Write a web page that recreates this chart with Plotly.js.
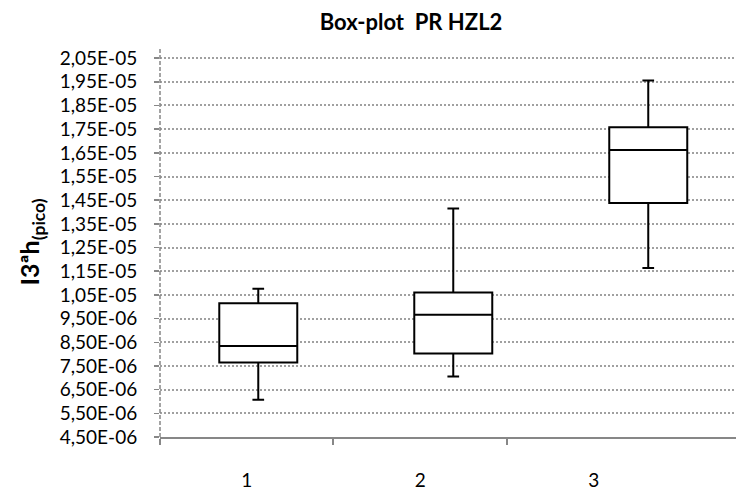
<!DOCTYPE html>
<html><head><meta charset="utf-8">
<script src="https://cdn.plot.ly/plotly-3.0.1.min.js"></script>
<style>html,body{margin:0;padding:0;background:#fff}</style>
</head><body><div id="chart" style="width:736px;height:493px"></div>
<script>
const categories = ["1", "2", "3"];
const lowerWhisker = [6.07e-6, 7.06e-6, 1.164e-5];
const q1Values = [7.65e-6, 8.03e-6, 1.438e-5];
const medianValues = [8.34e-6, 9.66e-6, 1.662e-5];
const q3Values = [1.015e-5, 1.060e-5, 1.758e-5];
const upperWhisker = [1.076e-5, 1.415e-5, 1.955e-5];
const yTickValues = [4.5e-6, 5.5e-6, 6.5e-6, 7.5e-6, 8.5e-6, 9.5e-6, 1.05e-5, 1.15e-5, 1.25e-5,
  1.35e-5, 1.45e-5, 1.55e-5, 1.65e-5, 1.75e-5, 1.85e-5, 1.95e-5, 2.05e-5];
const yTickLabels = ["4,50E-06", "5,50E-06", "6,50E-06", "7,50E-06", "8,50E-06", "9,50E-06",
  "1,05E-05", "1,15E-05", "1,25E-05", "1,35E-05", "1,45E-05", "1,55E-05", "1,65E-05",
  "1,75E-05", "1,85E-05", "1,95E-05", "2,05E-05"];
const labelPositions = [1, 2, 3];
const labelBoundaries = [0.5, 1.5, 2.5];

const axisGray = '#878787';
const font = 'Lato, "Open Sans", Arial, sans-serif';

const traces = [
  {type: 'scatter', x: [], y: [], xaxis: 'x', yaxis: 'y', showlegend: false, hoverinfo: 'skip'},
  {
    type: 'box', x: categories,
    q1: q1Values, median: medianValues, q3: q3Values,
    lowerfence: lowerWhisker, upperfence: upperWhisker,
    xaxis: 'x2', yaxis: 'y',
    fillcolor: '#ffffff', line: {color: '#000000', width: 2},
    width: 0.4, whiskerwidth: 0.15, boxpoints: false,
    showlegend: false, hoverinfo: 'skip'
  }
];

const layout = {
  width: 736, height: 493,
  margin: {l: 160, r: 0, t: 47, b: 56},
  paper_bgcolor: '#ffffff', plot_bgcolor: '#ffffff',
  showlegend: false,
  title: {
    text: '<b>Box-plot&nbsp; PR HZL2</b>',
    font: {family: font, size: 22, color: '#000000'},
    xref: 'container', yref: 'container',
    x: 411 / 736, xanchor: 'center', y: 1 - 22 / 493, yanchor: 'middle'
  },
  xaxis: {
    range: [0.5, 3.82],
    tickmode: 'array', tickvals: labelPositions, ticktext: categories,
    ticks: '', showline: true, linecolor: axisGray, linewidth: 2,
    showgrid: false, zeroline: false,
    ticklabelstandoff: 25,
    tickfont: {family: font, size: 19, color: '#000000'},
    minor: {tickmode: 'array', tickvals: labelBoundaries, ticks: 'outside', ticklen: 6,
      tickcolor: axisGray, tickwidth: 2, showgrid: false}
  },
  xaxis2: {
    type: 'category', categoryorder: 'array', categoryarray: categories,
    overlaying: 'x', anchor: 'y', side: 'bottom',
    range: [-0.504, 2.450],
    showticklabels: false, showgrid: false, zeroline: false, showline: false, ticks: ''
  },
  yaxis: {
    range: [4.5e-6, 2.097e-5],
    tickmode: 'array', tickvals: yTickValues, ticktext: yTickLabels,
    ticks: 'outside', ticklen: 5, tickcolor: axisGray, tickwidth: 1.5,
    showgrid: true, gridcolor: '#a0a0a0', gridwidth: 2, griddash: '2px,2px',
    zeroline: false, showline: false,
    ticklabelstandoff: 13,
    tickfont: {family: font, size: 19, color: '#000000'},
    title: {
      text: '<b>I3ªh<sub>(pico)</sub></b>',
      font: {family: font, size: 25, color: '#000000'},
      standoff: 12
    }
  },
  shapes: [
    {type: 'line', xref: 'paper', yref: 'paper', x0: 0, x1: 0, y0: 0, y1: 1,
      line: {color: axisGray, width: 1.5, dash: '4px,2px'}}
  ]
};

Plotly.newPlot('chart', traces, layout, {displayModeBar: false, staticPlot: true});
</script>
</body></html>
